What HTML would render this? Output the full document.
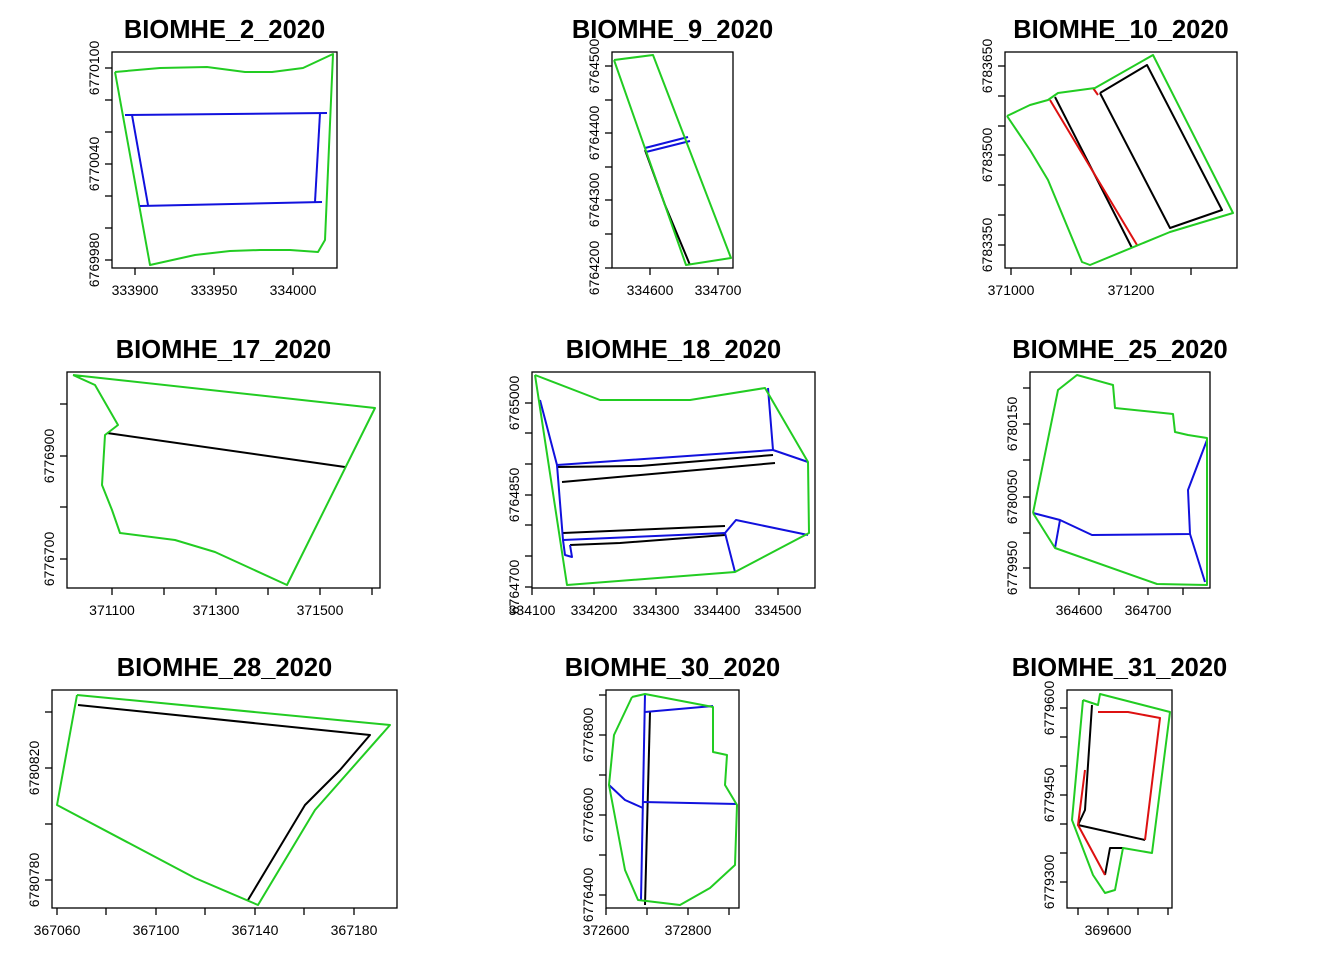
<!DOCTYPE html>
<html><head><meta charset="utf-8"><style>
html,body{margin:0;padding:0;background:#fff}
svg{display:block}
text{font-family:"Liberation Sans",Arial,sans-serif}
</style></head><body>
<svg id="s" width="1344" height="960" xmlns="http://www.w3.org/2000/svg"></svg>
<script>
const P=[
{t:"BIOMHE_2_2020",b:[112,52,337,268],xt:[[135,"333900"],[214,"333950"],[293,"334000"]],yt:[[68,"6770100"],[100],[132],[164,"6770040"],[196],[228],[260,"6769980"]],
 L:[["#22cc22",[[115,72],[160,68],[207,67],[245,72],[272,72],[303,68],[333,54],[325,240],[318,252],[290,250],[260,250],[230,251],[195,255],[150,265],[115,72]]],
 ["#1111dd",[[125,115],[327,113]]],["#1111dd",[[320,113],[315,202]]],["#1111dd",[[140,206],[322,202]]],["#1111dd",[[132,115],[148,205]]]]},
{t:"BIOMHE_9_2020",b:[612,52,733,268],xt:[[650,"334600"],[718,"334700"]],yt:[[66,"6764500"],[100],[133,"6764400"],[167],[200,"6764300"],[234],[268,"6764200"]],
 L:[["#000",[[645,150],[665,205],[690,265]]],["#1111dd",[[645,148],[688,137]]],["#1111dd",[[646,152],[690,141]]],
 ["#22cc22",[[614,60],[653,55],[731,258],[686,265],[614,60]]]]},
{t:"BIOMHE_10_2020",b:[1005,52,1237,268],xt:[[1011,"371000"],[1071],[1131,"371200"],[1191]],yt:[[66,"6783650"],[96],[126],[155,"6783500"],[185],[215],[245,"6783350"]],
 L:[["#000",[[1055,97],[1132,248]]],["#000",[[1100,93],[1147,65],[1222,210],[1170,228],[1100,93]]],
 ["#dd1111",[[1050,100],[1137,245]]],["#dd1111",[[1093,88],[1098,95]]],
 ["#22cc22",[[1007,116],[1030,105],[1048,100],[1058,93],[1095,88],[1153,55],[1233,213],[1170,232],[1090,265],[1082,262],[1048,180],[1030,150],[1007,116]]]]},
{t:"BIOMHE_17_2020",b:[67,372,380,588],xt:[[112,"371100"],[164],[216,"371300"],[268],[320,"371500"],[372]],yt:[[404],[456,"6776900"],[507],[559,"6776700"]],
 L:[["#000",[[107,433],[345,467]]],["#22cc22",[[73,375],[95,385],[118,425],[105,435],[102,485],[112,510],[120,533],[175,540],[215,552],[287,585],[375,408],[73,375]]]]},
{t:"BIOMHE_18_2020",b:[532,372,815,588],xt:[[532,"334100"],[594,"334200"],[656,"334300"],[717,"334400"],[778,"334500"]],yt:[[403,"6765000"],[433],[464],[495,"6764850"],[525],[556],[587,"6764700"]],
 L:[["#000",[[557,467],[640,466],[773,455]]],["#000",[[562,482],[775,463]]],["#000",[[563,533],[725,526]]],["#000",[[570,545],[620,543],[725,535]]],
 ["#1111dd",[[540,400],[557,465],[773,450],[768,388]]],["#1111dd",[[773,450],[808,462]]],["#1111dd",[[557,465],[563,540],[565,555],[572,557],[570,545]]],
 ["#1111dd",[[563,540],[725,533]]],["#1111dd",[[725,533],[736,520],[808,535]]],["#1111dd",[[725,533],[735,572]]],
 ["#22cc22",[[535,375],[600,400],[690,400],[765,388],[808,462],[809,533],[735,572],[567,585],[535,375]]]]},
{t:"BIOMHE_25_2020",b:[1030,372,1210,588],xt:[[1079,"364600"],[1114],[1148,"364700"],[1183]],yt:[[388],[424,"6780150"],[460],[497,"6780050"],[533],[568,"6779950"]],
 L:[["#1111dd",[[1033,513],[1060,520],[1092,535],[1190,534],[1188,490],[1207,440]]],["#1111dd",[[1060,520],[1055,548]]],["#1111dd",[[1190,534],[1205,582]]],
 ["#22cc22",[[1033,513],[1058,390],[1077,375],[1113,385],[1115,408],[1173,414],[1175,432],[1188,435],[1207,438],[1207,585],[1157,584],[1055,548],[1033,513]]]]},
{t:"BIOMHE_28_2020",b:[52,690,397,908],xt:[[57,"367060"],[106],[156,"367100"],[205],[255,"367140"],[304],[354,"367180"]],yt:[[712],[768,"6780820"],[824],[880,"6780780"]],
 L:[["#000",[[78,705],[370,735],[340,770],[305,805],[272,860],[248,900]]],["#22cc22",[[77,695],[390,725],[315,810],[258,905],[195,878],[57,805],[77,695]]]]},
{t:"BIOMHE_30_2020",b:[606,690,739,908],xt:[[606,"372600"],[647],[688,"372800"],[729]],yt:[[695],[735,"6776800"],[775],[815,"6776600"],[855],[895,"6776400"]],
 L:[["#000",[[650,712],[645,905]]],["#1111dd",[[645,694],[641,900]]],["#1111dd",[[645,712],[713,706]]],["#1111dd",[[643,802],[737,804]]],["#1111dd",[[609,785],[625,800],[643,808]]],
 ["#22cc22",[[632,697],[645,694],[713,707],[713,752],[727,755],[725,785],[737,805],[735,865],[710,888],[680,905],[638,900],[625,870],[609,785],[614,735],[632,697]]]]},
{t:"BIOMHE_31_2020",b:[1067,690,1172,908],xt:[[1078],[1108,"369600"],[1138],[1168]],yt:[[708,"6779600"],[737],[766],[795,"6779450"],[824],[853],[882,"6779300"]],
 L:[["#000",[[1092,705],[1085,810],[1078,825],[1145,840]]],["#000",[[1105,875],[1110,848],[1123,848]]],
 ["#dd1111",[[1098,712],[1128,712],[1160,718],[1145,840]]],["#dd1111",[[1085,770],[1078,825],[1105,875]]],
 ["#22cc22",[[1083,700],[1098,705],[1100,694],[1170,712],[1152,853],[1123,848],[1115,890],[1105,893],[1093,875],[1072,820],[1083,700]]]]}
];
let h="";
for(const p of P){
 const [x0,y0,x1,y1]=p.b;
 h+=`<text x="${(x0+x1)/2}" y="${y0-14}" font-size="25.5" font-weight="bold" text-anchor="middle">${p.t}</text>`;
 h+=`<rect x="${x0}" y="${y0}" width="${x1-x0}" height="${y1-y0}" fill="none" stroke="#000" stroke-width="1.3"/>`;
 for(const [x,l] of p.xt){h+=`<line x1="${x}" y1="${y1}" x2="${x}" y2="${y1+7}" stroke="#000" stroke-width="1.3"/>`;
  if(l)h+=`<text x="${x}" y="${y1+27}" font-size="14" text-anchor="middle">${l}</text>`;}
 for(const [y,l] of p.yt){h+=`<line x1="${x0}" y1="${y}" x2="${x0-7}" y2="${y}" stroke="#000" stroke-width="1.3"/>`;
  if(l)h+=`<text transform="translate(${x0-13},${y}) rotate(-90)" font-size="14" text-anchor="middle">${l}</text>`;}
 for(const [c,pts] of p.L)h+=`<polyline points="${pts.map(q=>q.join(",")).join(" ")}" fill="none" stroke="${c}" stroke-width="2" stroke-linejoin="round"/>`;
}
document.getElementById("s").innerHTML=h;
</script>
</body></html>
